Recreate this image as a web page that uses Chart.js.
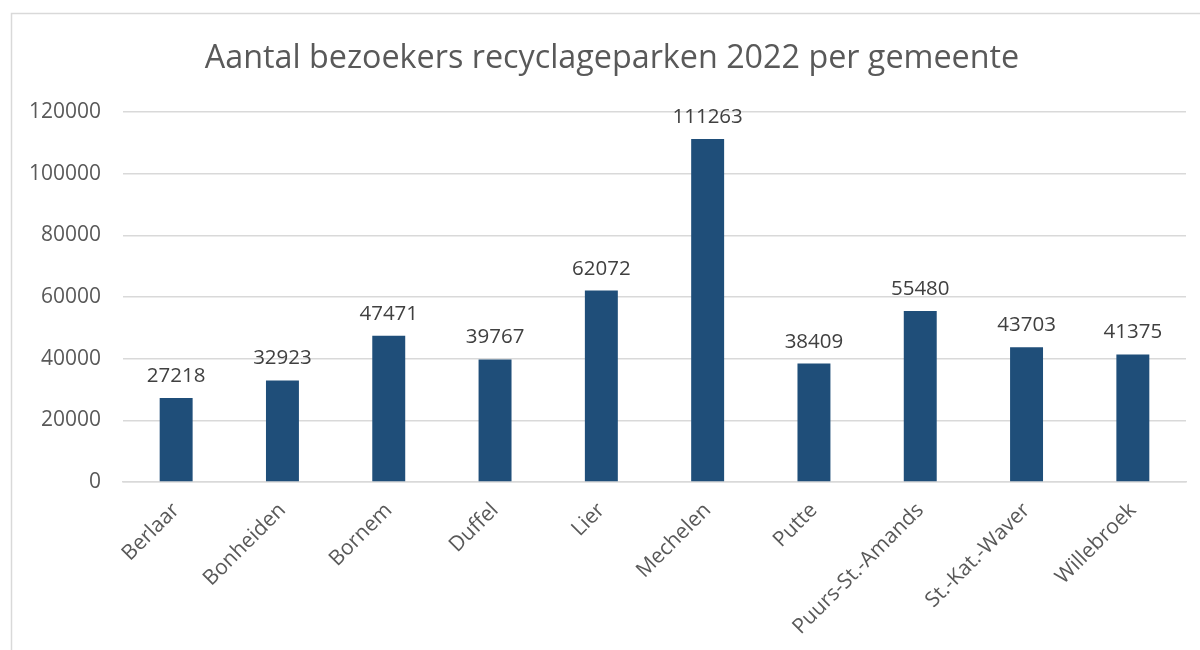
<!DOCTYPE html>
<html>
<head>
<meta charset="utf-8">
<script src="https://cdn.jsdelivr.net/npm/chart.js@4/dist/chart.umd.min.js"></script>
<style>
  html, body { margin: 0; padding: 0; background: #ffffff; }
  #wrap { position: relative; width: 1200px; height: 650px; }
</style>
</head>
<body>
<div id="wrap"><canvas id="c" width="1200" height="650"></canvas></div>
<script>
const categories = ["Berlaar", "Bonheiden", "Bornem", "Duffel", "Lier", "Mechelen", "Putte", "Puurs-St.-Amands", "St.-Kat.-Waver", "Willebroek"];
const visitors = [27218, 32923, 47471, 39767, 62072, 111263, 38409, 55480, 43703, 41375];
const titleText = "Aantal bezoekers recyclageparken 2022 per gemeente";
const yMin = 0, yMax = 120000, yStep = 20000;

const FONT = "'Open Sans', 'DejaVu Sans', sans-serif";

const framePlugin = {
  id: 'frame',
  beforeDraw(chart) {
    const ctx = chart.ctx;
    ctx.save();
    ctx.fillStyle = '#ffffff';
    ctx.fillRect(0, 0, chart.width, chart.height);
    ctx.strokeStyle = '#d9d9d9';
    ctx.lineWidth = 1.5;
    ctx.strokeRect(11.5, 13.5, 1300, 700);
    ctx.restore();
  },
  afterDraw(chart) {
    // chart title, centred on the outer frame as in the reference
    const ctx = chart.ctx;
    ctx.save();
    ctx.font = "32.3px " + FONT;
    ctx.fillStyle = '#595959';
    ctx.textAlign = 'center';
    ctx.textBaseline = 'alphabetic';
    ctx.fillText(titleText, 612, 68);
    ctx.restore();
  }
};

const valueLabels = {
  id: 'valueLabels',
  afterDatasetsDraw(chart) {
    const ctx = chart.ctx;
    const meta = chart.getDatasetMeta(0);
    ctx.save();
    ctx.font = "20.5px " + FONT;
    ctx.fillStyle = '#404040';
    ctx.textAlign = 'center';
    ctx.textBaseline = 'alphabetic';
    meta.data.forEach((bar, i) => {
      ctx.fillText(String(chart.data.datasets[0].data[i]), bar.x, bar.y - 16);
    });
    ctx.restore();
  }
};

new Chart(document.getElementById('c'), {
  type: 'bar',
  data: {
    labels: categories,
    datasets: [{
      data: visitors,
      backgroundColor: '#1f4e79',
      borderWidth: 0,
      categoryPercentage: 1.0,
      barPercentage: 0.31
    }]
  },
  options: {
    responsive: false,
    animation: false,
    layout: { padding: { top: 112, right: 14, bottom: 0, left: 0 } },
    plugins: {
      legend: { display: false },
      tooltip: { enabled: false },
      title: { display: false }
    },
    scales: {
      x: {
        grid: { display: false, drawTicks: false },
        border: { display: true, color: '#d9d9d9', width: 1.5 },
        ticks: {
          color: '#595959',
          font: { family: FONT, size: 21 },
          maxRotation: 45,
          minRotation: 45,
          padding: 16,
          autoSkip: false
        },
        afterFit(scale) { scale.height = 168; }
      },
      y: {
        min: yMin,
        max: yMax,
        grid: { color: '#d9d9d9', lineWidth: 1.5, drawTicks: false },
        border: { display: false },
        ticks: {
          stepSize: yStep,
          color: '#595959',
          font: { family: FONT, size: 21 },
          padding: 22,
          callback: (v) => String(v)
        },
        afterFit(scale) { scale.width = 123; }
      }
    }
  },
  plugins: [framePlugin, valueLabels]
});
</script>
</body>
</html>
